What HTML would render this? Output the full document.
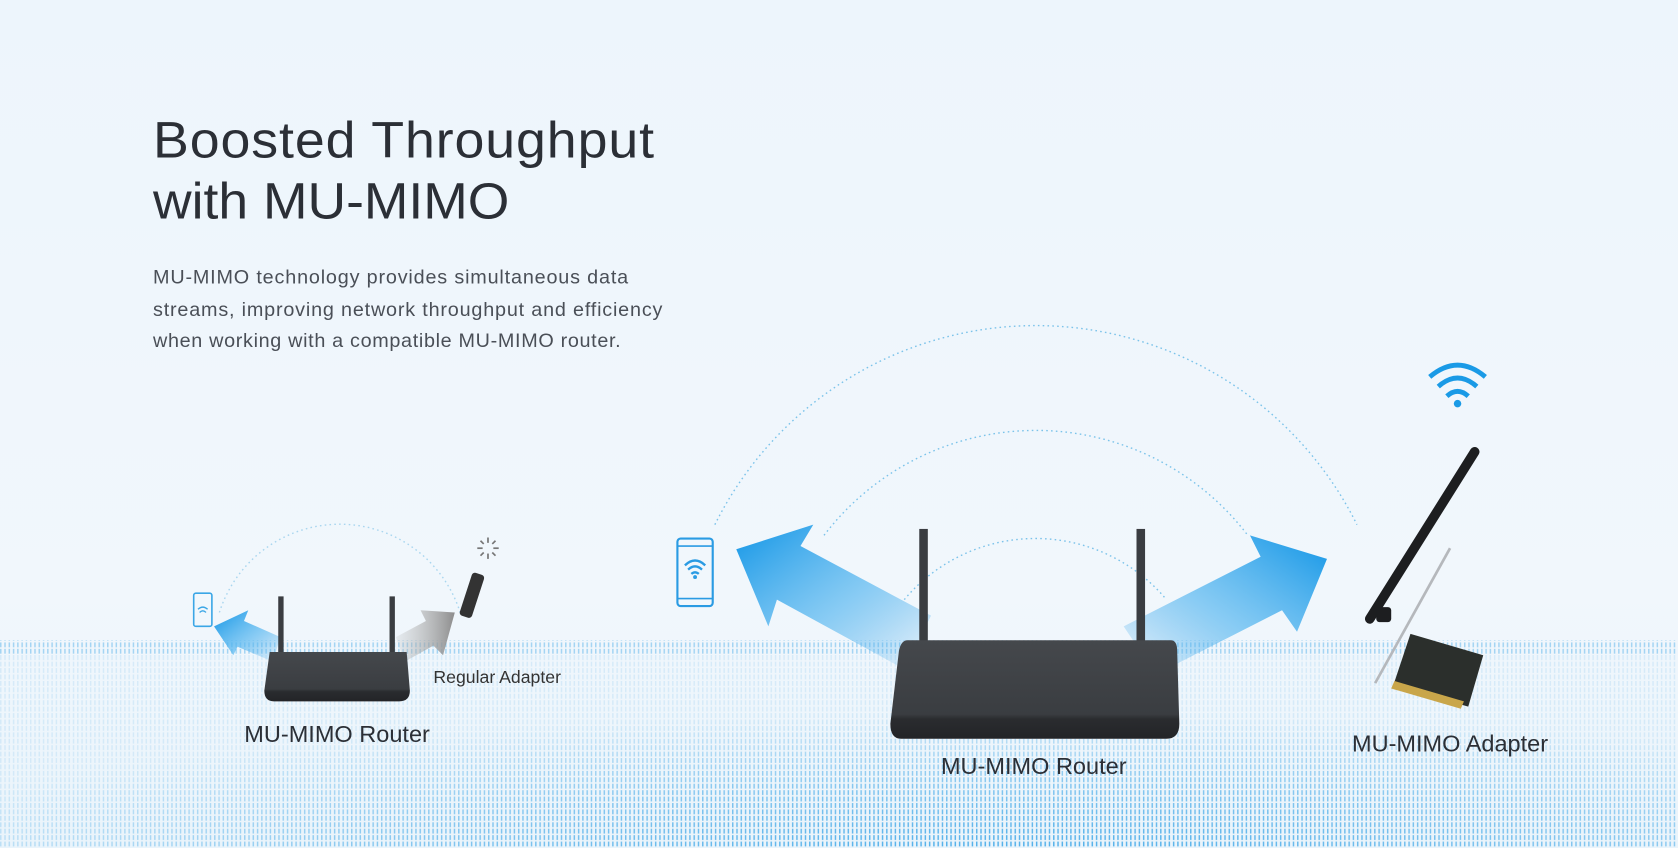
<!DOCTYPE html>
<html><head><meta charset="utf-8"><style>
html,body{margin:0;padding:0;width:1678px;height:848px;overflow:hidden;background:#eef6fc}
svg{display:block}
text{font-family:"Liberation Sans",sans-serif}
</style></head><body>
<svg width="1678" height="848" viewBox="0 0 1568 792" preserveAspectRatio="none">
<defs>
<linearGradient id="bg" x1="0" y1="0" x2="0" y2="1">
<stop offset="0" stop-color="#edf5fc"/><stop offset="0.7" stop-color="#f1f7fc"/><stop offset="1" stop-color="#eaf4fb"/></linearGradient>
<pattern id="grid" width="4" height="6" patternUnits="userSpaceOnUse">
<rect x="0" y="0" width="1.4" height="4.5" fill="#48abe8"/></pattern>
<radialGradient id="gm" cx="0.6" cy="1.05" r="0.7">
<stop offset="0" stop-color="#fff" stop-opacity="1"/><stop offset="0.55" stop-color="#fff" stop-opacity="0.6"/><stop offset="1" stop-color="#fff" stop-opacity="0.15"/></radialGradient>
<mask id="m"><rect x="0" y="595" width="1568" height="200" fill="url(#gm)"/></mask>
<linearGradient id="al" x1="1" y1="1" x2="0" y2="0">
<stop offset="0" stop-color="#3aa5ea" stop-opacity="0"/><stop offset="0.45" stop-color="#5ab8f0" stop-opacity="0.7"/><stop offset="1" stop-color="#1195e6"/></linearGradient>
<linearGradient id="ar" x1="0" y1="1" x2="1" y2="0">
<stop offset="0" stop-color="#3aa5ea" stop-opacity="0"/><stop offset="0.45" stop-color="#5ab8f0" stop-opacity="0.7"/><stop offset="1" stop-color="#1195e6"/></linearGradient>
<linearGradient id="ag" x1="0" y1="0" x2="1" y2="0">
<stop offset="0" stop-color="#bbb" stop-opacity="0.2"/><stop offset="1" stop-color="#8d8d8d"/></linearGradient>
<linearGradient id="rb" x1="0" y1="0" x2="0" y2="1">
<stop offset="0" stop-color="#45484c"/><stop offset="0.75" stop-color="#3a3d41"/><stop offset="0.8" stop-color="#2a2c2f"/><stop offset="1" stop-color="#232427"/></linearGradient>
</defs>
<rect width="1568" height="792" fill="url(#bg)"/>
<rect x="0" y="598" width="1568" height="194" fill="url(#grid)" mask="url(#m)"/>
<rect x="0" y="598" width="1568" height="14" fill="url(#grid)" opacity="0.35"/>

<text x="143" y="147" font-size="48" fill="#2b2f36" letter-spacing="0.8" textLength="469" lengthAdjust="spacingAndGlyphs">Boosted Throughput</text>
<text x="143" y="204" font-size="48" fill="#2b2f36" textLength="333" lengthAdjust="spacingAndGlyphs">with MU-MIMO</text>
<text font-size="18.5" fill="#4a4f57"><tspan x="143" y="265" textLength="444">MU-MIMO technology provides simultaneous data</tspan><tspan x="143" y="295" textLength="476">streams, improving network throughput and efficiency</tspan><tspan x="143" y="324" textLength="437">when working with a compatible MU-MIMO router.</tspan></text>

<g fill="none" stroke="#7cc3ea" stroke-width="1.3" stroke-dasharray="1.5 3">
<path d="M668 490 A335 335 0 0 1 1268 490"/>
<path d="M770 500 A249 249 0 0 1 1166 500"/>
<path d="M845 560 A160 160 0 0 1 1090 560"/>
<path d="M205 572 A118 118 0 0 1 430 572" stroke="#a9d6ef"/>
</g>

<polygon points="688,513 760,490 748,510 870,575 845,625 726,560 718,585" fill="url(#al)"/>
<polygon points="1240,522 1168,500 1178,520 1050,585 1080,630 1198,570 1212,590" fill="url(#ar)"/>
<polygon points="200,585 232,570 228,580 262,595 255,618 222,604 218,612" fill="url(#al)"/>
<polygon points="425,572 393,570 398,580 370,595 378,618 405,603 414,612" fill="url(#ag)"/>

<rect x="260" y="557" width="5" height="55" fill="#3a3d41"/>
<rect x="364" y="557" width="5" height="55" fill="#3a3d41"/>
<path d="M252 609 L380 609 L383 645 Q383 655 373 655 L256 655 Q247 655 247 645 Z" fill="url(#rb)"/>
<rect x="181" y="554" width="17" height="31" rx="2" fill="none" stroke="#3aa6e6" stroke-width="1.5"/>
<path d="M185 569 Q189.5 565 194 569 M186.5 572 Q189.5 569 192.5 572" stroke="#3aa6e6" stroke-width="1.3" fill="none"/>
<g stroke="#777" stroke-width="1.6">
<line x1="456" y1="502" x2="456" y2="507"/><line x1="456" y1="517" x2="456" y2="522"/>
<line x1="446" y1="512" x2="451" y2="512"/><line x1="461" y1="512" x2="466" y2="512"/>
<line x1="449" y1="505" x2="452" y2="508"/><line x1="460" y1="516" x2="463" y2="519"/>
<line x1="449" y1="519" x2="452" y2="516"/><line x1="460" y1="508" x2="463" y2="505"/></g>
<rect x="435" y="535" width="12" height="42" rx="3" transform="rotate(18 441 556)" fill="#333"/>
<text x="405" y="638" font-size="16.5" fill="#333">Regular Adapter</text>
<text x="315" y="693" font-size="22" fill="#2b2f36" text-anchor="middle">MU-MIMO Router</text>

<rect x="859" y="494" width="8" height="106" fill="#3a3d41"/>
<rect x="1062" y="494" width="8" height="106" fill="#3a3d41"/>
<path d="M848 598 L1094 598 Q1100 598 1100 608 L1102 676 Q1102 690 1090 690 L842 690 Q832 690 832 676 L840 608 Q842 598 848 598 Z" fill="url(#rb)"/>
<rect x="633" y="503" width="33" height="63" rx="3" fill="none" stroke="#2a9be3" stroke-width="2"/>
<line x1="633" y1="510" x2="666" y2="510" stroke="#2a9be3" stroke-width="1.5"/>
<line x1="633" y1="559" x2="666" y2="559" stroke="#2a9be3" stroke-width="1.5"/>
<path d="M640 528 Q649.5 519 659 528 M643 532 Q649.5 526 656 532 M646 536 Q649.5 533 653 536" stroke="#2a9be3" stroke-width="2.2" fill="none"/>
<circle cx="649.5" cy="539" r="1.8" fill="#2a9be3"/>
<text x="966" y="723" font-size="22" fill="#2b2f36" text-anchor="middle">MU-MIMO Router</text>

<g fill="none" stroke="#1a9ae6" stroke-width="4.5">
<path d="M1336 352 Q1362 330 1388 352"/><path d="M1344 361 Q1362 345 1380 361"/><path d="M1352 370 Q1362 361 1372 370"/></g>
<circle cx="1362" cy="377" r="3.5" fill="#1a9ae6"/>

<line x1="1280" y1="578" x2="1378" y2="422" stroke="#1d1e20" stroke-width="9" stroke-linecap="round"/>
<line x1="1355" y1="512" x2="1285" y2="638" stroke="#b5b8bc" stroke-width="2.5"/>
<polygon points="1318,592 1386,612 1372,660 1302,640" fill="#2b2f2c"/>
<rect x="1286" y="567" width="14" height="14" rx="3" fill="#1d1e20"/>
<polygon points="1303,636 1368,655 1365,662 1300,643" fill="#c9a64a"/>
<text x="1355" y="702" font-size="22" fill="#2b2f36" text-anchor="middle">MU-MIMO Adapter</text>
</svg>
</body></html>
